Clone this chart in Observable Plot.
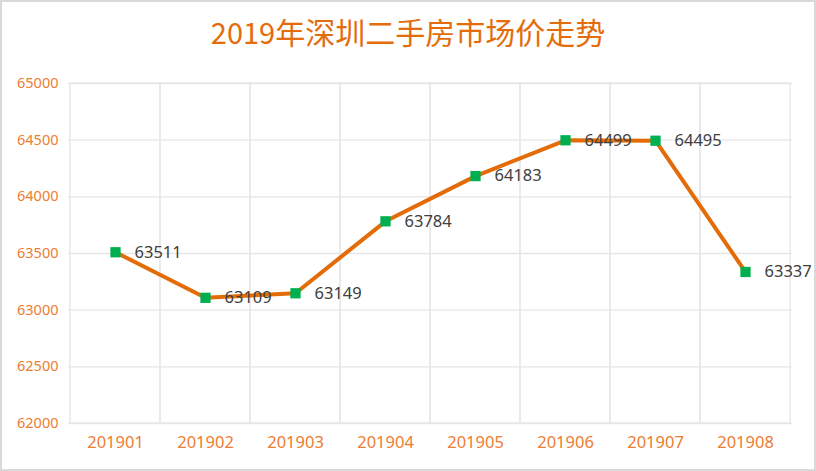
<!DOCTYPE html>
<html>
<head>
<meta charset="utf-8">
<script src="https://cdn.jsdelivr.net/npm/d3@7"></script>
<script src="https://cdn.jsdelivr.net/npm/@observablehq/plot@0.6"></script>
<style>
  html, body { margin: 0; padding: 0; background: #fff; }
  #wrap { width: 816px; height: 471px; box-sizing: border-box; border: 2px solid #d9d9d9; background: #fff; overflow: hidden; }
  #title { height: 58px; display: flex; align-items: center; justify-content: center; color: #E46C0A;
           font-family: "Noto Sans CJK SC", sans-serif; white-space: nowrap; padding-top: 0px; box-sizing: border-box; }
  #title .num { font-size: 29px; }
  #title .cjk { font-size: 30px; letter-spacing: 0px; }
</style>
</head>
<body>
<div id="wrap">
  <div id="title"><span class="num">2019</span><span class="cjk">年深圳二手房市场价走势</span></div>
  <div id="chart"></div>
</div>
<script>
const months = ["201901", "201902", "201903", "201904", "201905", "201906", "201907", "201908"];
const prices = [63511, 63109, 63149, 63784, 64183, 64499, 64495, 63337];
const yTicks = [62000, 62500, 63000, 63500, 64000, 64500, 65000];

const data = months.map((m, i) => ({month: m, price: prices[i]}));

const chart = Plot.plot({
  width: 812,
  height: 407,
  marginTop: 23,
  marginBottom: 44,
  marginLeft: 66,
  marginRight: 22,
  style: {fontFamily: "'Noto Sans', 'Noto Sans CJK SC', sans-serif", background: "#fff"},
  x: {type: "band", domain: months, padding: 0, label: null},
  y: {domain: [62000, 65000], label: null},
  marks: [
    Plot.ruleY(yTicks, {stroke: "#e6e6e6", strokeWidth: 1.3, strokeOpacity: 1}),
    Plot.cell(months, {x: d => d, fill: "none", stroke: "#e6e6e6", strokeWidth: 1.3, inset: 0}),
    Plot.axisX({tickSize: 0, tickPadding: 13, fontSize: 16.5, fill: "#ED7D31", label: null}),
    Plot.axisY({ticks: yTicks, tickSize: 0, tickPadding: 10, fontSize: 14.5, fill: "#ED7D31", tickFormat: d => String(d), label: null}),
    Plot.line(data, {x: "month", y: "price", stroke: "#E36C09", strokeWidth: 4}),
    Plot.dot(data, {x: "month", y: "price", symbol: "square", r: 5.8, fill: "#00B050", stroke: "none"}),
    Plot.text(data, {x: "month", y: "price", text: d => String(d.price), textAnchor: "start", dx: 19, fontSize: 16.5, fill: "#404040"})
  ]
});
document.getElementById("chart").appendChild(chart);
</script>
</body>
</html>
